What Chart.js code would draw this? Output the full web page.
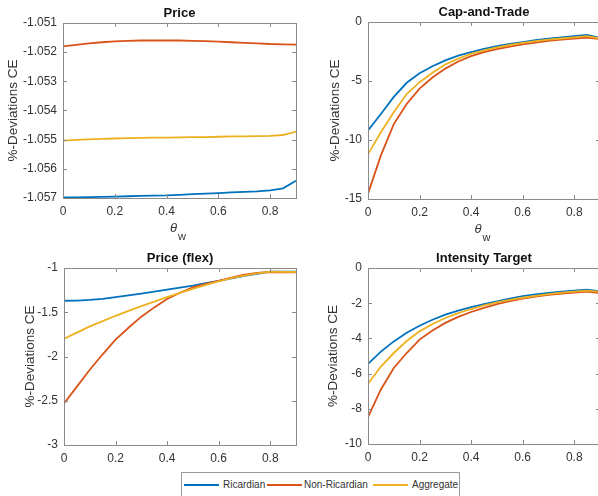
<!DOCTYPE html>
<html>
<head>
<meta charset="utf-8">
<script src="https://cdn.jsdelivr.net/npm/chart.js@4.4.1/dist/chart.umd.min.js"></script>
<style>
  html, body { margin: 0; padding: 0; background: #fff; }
  body { width: 598px; height: 496px; overflow: hidden; position: relative; font-family: "Liberation Sans", Arial, sans-serif; }
  .panel { position: absolute; width: 300px; height: 248px; }
  #legend { position: absolute; left: 181px; top: 472px; width: 277px; height: 40px; border: 1px solid #9a9a9a; background: #fff; }
  .item { position: absolute; top: 6px; font-size: 10px; color: #333; line-height: 12px; }
  .sw { position: absolute; height: 2px; top: 11px; }
</style>
</head>
<body>
<div class="panel" style="left:0;top:0"><canvas id="c1"></canvas></div>
<div class="panel" style="left:300px;top:0"><canvas id="c2"></canvas></div>
<div class="panel" style="left:0;top:248px"><canvas id="c3"></canvas></div>
<div class="panel" style="left:300px;top:248px"><canvas id="c4"></canvas></div>
<div id="legend">
  <div class="sw" style="left:2px;width:35px;background:#0072BD"></div>
  <div class="item" style="left:41px">Ricardian</div>
  <div class="sw" style="left:85px;width:35px;background:#D95319"></div>
  <div class="item" style="left:122px">Non-Ricardian</div>
  <div class="sw" style="left:191px;width:35px;background:#EDB120"></div>
  <div class="item" style="left:230px">Aggregate</div>
</div>
<script>
// theta_w grid
var theta = [0, 0.05, 0.1, 0.15, 0.2, 0.25, 0.3, 0.35, 0.4, 0.45, 0.5, 0.55, 0.6, 0.65, 0.7, 0.75, 0.8, 0.85, 0.9];
var seriesNames = ['Ricardian', 'Non-Ricardian', 'Aggregate'];
var colors = ['#0072BD', '#D95319', '#EDB120'];

// Price
var priceRic = [-1.05698, -1.05698, -1.05697, -1.05696, -1.05695, -1.05694, -1.05693, -1.05692, -1.05691, -1.05689, -1.05687, -1.05685, -1.05683, -1.05681, -1.05679, -1.05677, -1.05674, -1.05667, -1.05641];
var priceNon = [-1.05180, -1.05175, -1.05170, -1.05166, -1.05163, -1.05161, -1.05160, -1.05160, -1.05160, -1.05160, -1.05161, -1.05162, -1.05164, -1.05166, -1.05168, -1.05170, -1.05172, -1.05173, -1.05174];
var priceAgg = [-1.05503, -1.05501, -1.05499, -1.05497, -1.05496, -1.05495, -1.05494, -1.05493, -1.05493, -1.05492, -1.05491, -1.05491, -1.05490, -1.05489, -1.05489, -1.05488, -1.05487, -1.05484, -1.05472];

// Cap-and-Trade
var capRic = [-9.2, -7.8, -6.35, -5.15, -4.35, -3.75, -3.25, -2.85, -2.55, -2.28, -2.05, -1.86, -1.7, -1.54, -1.4, -1.3, -1.2, -1.1, -1.35];
var capNon = [-14.55, -11.3, -8.65, -6.95, -5.65, -4.7, -3.95, -3.35, -2.9, -2.55, -2.3, -2.08, -1.9, -1.74, -1.6, -1.5, -1.4, -1.32, -1.45];
var capAgg = [-11.2, -9.35, -7.65, -6.1, -5.1, -4.3, -3.6, -3.1, -2.7, -2.4, -2.15, -1.95, -1.77, -1.62, -1.5, -1.4, -1.3, -1.2, -1.4];

// Price (flex)
var flexRic = [-1.37, -1.368, -1.36, -1.348, -1.33, -1.31, -1.29, -1.268, -1.245, -1.222, -1.2, -1.172, -1.145, -1.117, -1.09, -1.065, -1.04, -1.04, -1.04];
var flexNon = [-2.53, -2.34, -2.15, -1.975, -1.81, -1.675, -1.55, -1.445, -1.35, -1.28, -1.22, -1.18, -1.145, -1.108, -1.075, -1.055, -1.045, -1.048, -1.05];
var flexAgg = [-1.8, -1.73, -1.66, -1.6, -1.54, -1.485, -1.43, -1.38, -1.33, -1.28, -1.235, -1.19, -1.15, -1.115, -1.085, -1.06, -1.04, -1.043, -1.045];

// Intensity Target
var intRic = [-5.45, -4.75, -4.17, -3.68, -3.28, -2.94, -2.65, -2.42, -2.22, -2.05, -1.9, -1.74, -1.6, -1.5, -1.42, -1.35, -1.29, -1.23, -1.33];
var intNon = [-8.47, -6.9, -5.68, -4.83, -4.07, -3.55, -3.12, -2.78, -2.5, -2.26, -2.05, -1.88, -1.74, -1.63, -1.53, -1.46, -1.4, -1.34, -1.42];
var intAgg = [-6.57, -5.6, -4.83, -4.15, -3.6, -3.18, -2.84, -2.56, -2.33, -2.13, -1.95, -1.81, -1.69, -1.58, -1.48, -1.4, -1.34, -1.29, -1.36];

var FONT = '"Liberation Sans", Arial, sans-serif';
var AXIS_COLOR = '#8a8a8a';
var TEXT_COLOR = '#333';

// draws the matlab style box, inward ticks, title and axis labels
var matlabBox = {
    id: 'matlabBox',
    afterDraw: function (chart) {
        var c = chart.ctx;
        var a = chart.chartArea;
        var o = chart.options.plugins.matlabBox;
        var xs = chart.scales.x, ys = chart.scales.y;
        c.save();
        c.strokeStyle = AXIS_COLOR;
        c.lineWidth = 1;
        c.strokeRect(Math.round(a.left) + 0.5, Math.round(a.top) + 0.5, Math.round(a.right - a.left), Math.round(a.bottom - a.top));
        c.beginPath();
        xs.ticks.forEach(function (t) {
            var px = Math.round(xs.getPixelForValue(t.value)) + 0.5;
            c.moveTo(px, a.bottom); c.lineTo(px, a.bottom - 4);
            c.moveTo(px, a.top); c.lineTo(px, a.top + 4);
        });
        ys.ticks.forEach(function (t) {
            var py = Math.round(ys.getPixelForValue(t.value)) + 0.5;
            c.moveTo(a.left, py); c.lineTo(a.left + 4, py);
            c.moveTo(a.right, py); c.lineTo(a.right - 4, py);
        });
        c.stroke();

        var cx = (a.left + a.right) / 2;
        c.fillStyle = '#111';
        c.font = 'bold 13px ' + FONT;
        c.textAlign = 'center';
        c.textBaseline = 'middle';
        c.fillText(o.title, cx, a.top - 10);

        c.fillStyle = TEXT_COLOR;
        c.font = '13.5px ' + FONT;
        c.translate(a.left - o.ylabelOffset, (a.top + a.bottom) / 2);
        c.rotate(-Math.PI / 2);
        c.fillText('%-Deviations CE', 0, 0);
        c.setTransform(1, 0, 0, 1, 0, 0);

        if (o.xlabel) {
            c.font = 'italic 13px ' + FONT;
            c.fillText('\u03B8', cx - 6, a.bottom + 30);
            c.font = '11px ' + FONT;
            c.fillText('w', cx + 2.5, a.bottom + 39);
        }
        c.restore();
    }
};

function makePanel(id, title, data, ymin, ymax, ystep, ydec, pad, yw, xh, ylabelOffset, xlabel) {
    var datasets = [];
    for (var i = 0; i < 3; i++) {
        datasets.push({
            label: seriesNames[i],
            data: theta.map(function (t, k) { return { x: t, y: data[i][k] }; }),
            borderColor: colors[i],
            borderWidth: 1.8,
            pointRadius: 0,
            tension: 0,
            fill: false,
            order: 2 - i
        });
    }
    new Chart(document.getElementById(id), {
        type: 'line',
        data: { datasets: datasets },
        options: {
            responsive: true,
            maintainAspectRatio: false,
            animation: false,
            layout: { padding: pad },
            plugins: {
                legend: { display: false },
                tooltip: { enabled: false },
                matlabBox: { title: title, ylabelOffset: ylabelOffset, xlabel: xlabel }
            },
            scales: {
                x: {
                    type: 'linear', min: 0, max: 0.9,
                    grid: { display: false, drawTicks: false },
                    border: { display: false },
                    ticks: {
                        stepSize: 0.2, includeBounds: false, padding: 6,
                        color: TEXT_COLOR, font: { family: FONT, size: 12 },
                        maxRotation: 0,
                        callback: function (v) { return Math.round(v * 10) / 10 + ''; }
                    },
                    afterFit: function (s) { s.height = xh; }
                },
                y: {
                    type: 'linear', min: ymin, max: ymax,
                    grid: { display: false, drawTicks: false },
                    border: { display: false },
                    ticks: {
                        stepSize: ystep, padding: 6,
                        color: TEXT_COLOR, font: { family: FONT, size: 12 },
                        callback: function (v) { return parseFloat(Number(v).toFixed(ydec)) + ''; }
                    },
                    afterFit: function (s) { s.width = yw; }
                }
            }
        },
        plugins: [matlabBox]
    });
}

makePanel('c1', 'Price', [priceRic, priceNon, priceAgg], -1.057, -1.051, 0.001, 3,
    { left: 0, right: 4, top: 23, bottom: 0 }, 63, 50, 50, true);
makePanel('c2', 'Cap-and-Trade', [capRic, capNon, capAgg], -15, 0, 5, 0,
    { left: 0, right: 0, top: 22, bottom: 0 }, 68, 49, 33, true);
makePanel('c3', 'Price (flex)', [flexRic, flexNon, flexAgg], -3, -1, 0.5, 1,
    { left: 0, right: 4, top: 20, bottom: 0 }, 64, 51, 34, false);
makePanel('c4', 'Intensity Target', [intRic, intNon, intAgg], -10, 0, 2, 0,
    { left: 0, right: 0, top: 20, bottom: 0 }, 68, 52, 35, false);
</script>
</body>
</html>
